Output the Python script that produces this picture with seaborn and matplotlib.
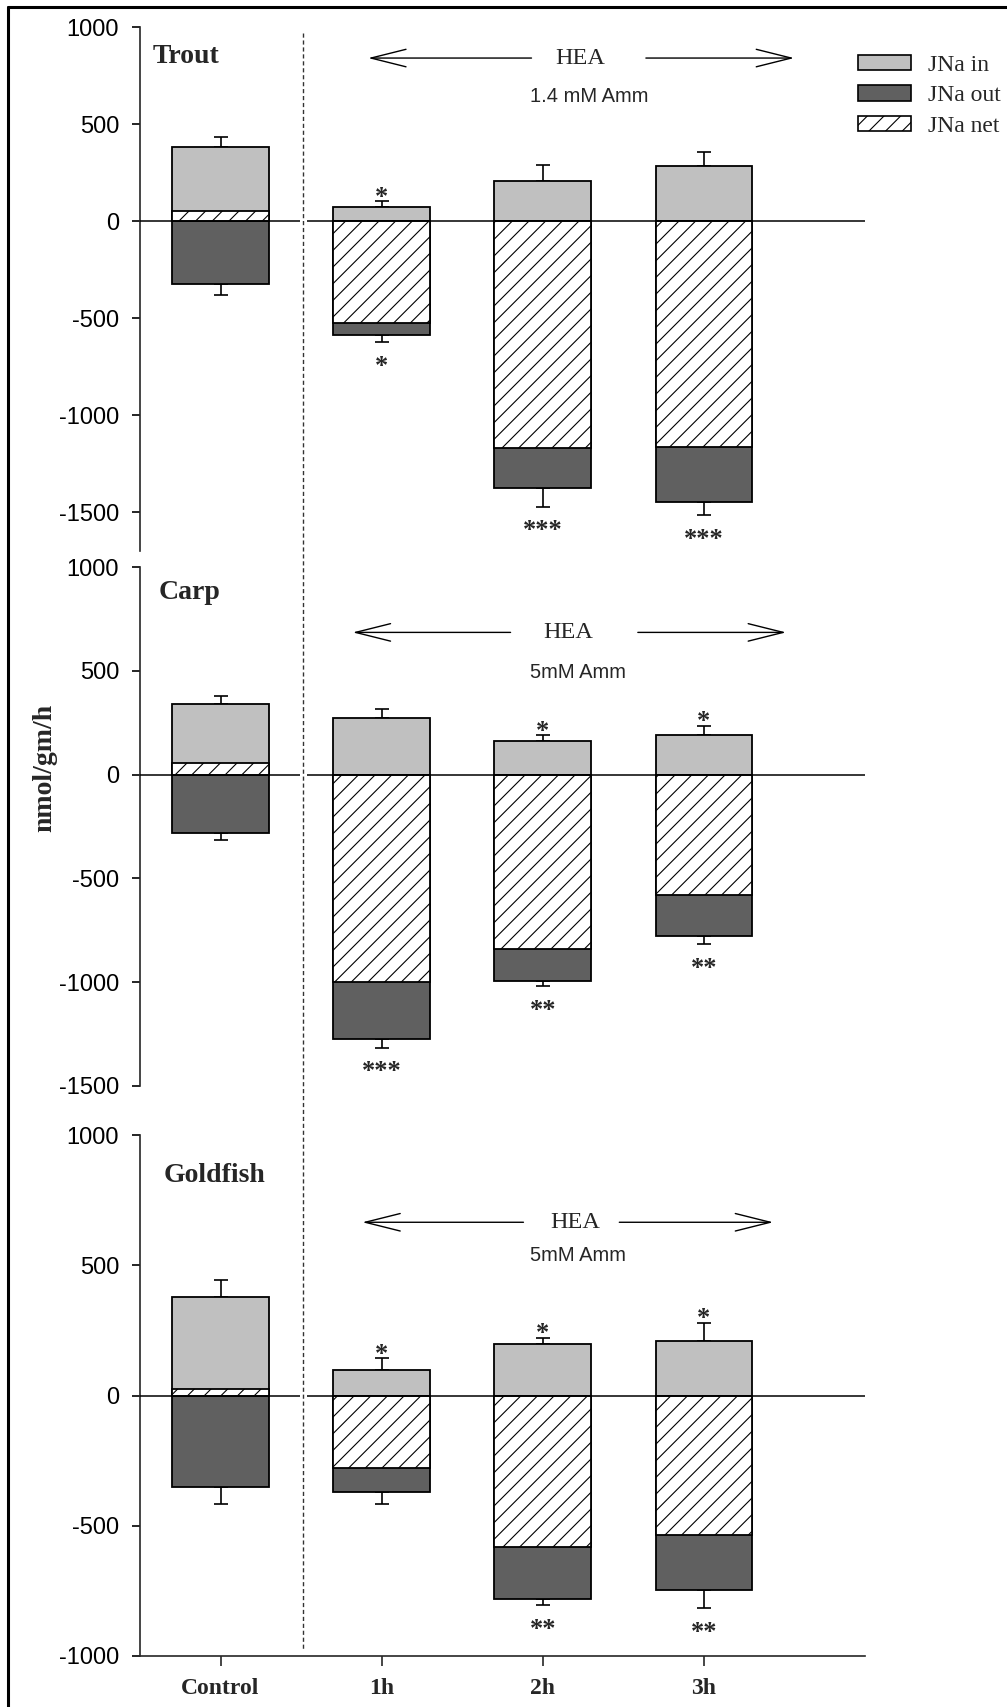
import matplotlib
matplotlib.use("Agg")
import matplotlib.pyplot as plt
from matplotlib.patches import Patch
from matplotlib.lines import Line2D
from matplotlib import transforms
import seaborn as sns
import pandas as pd
import numpy as np

# ---------------- data ----------------
categories = ["Control", "1h", "2h", "3h"]

trout_in = [381, 72, 204, 285]
trout_in_err = [53, 29, 87, 70]
trout_out = [-324, -587, -1375, -1447]
trout_out_err = [55, 37, 96, 70]
trout_net = [53, -523, -1171, -1162]
trout_star_top = ["", "*", "", ""]
trout_star_bot = ["", "*", "***", "***"]

carp_in = [339, 274, 163, 192]
carp_in_err = [38, 43, 29, 44]
carp_out = [-279, -1272, -993, -779]
carp_out_err = [38, 43, 26, 38]
carp_net = [56, -998, -839, -579]
carp_star_top = ["", "", "*", "*"]
carp_star_bot = ["", "***", "**", "**"]

gold_in = [380, 98, 198, 211]
gold_in_err = [65, 45, 24, 69]
gold_out = [-353, -370, -783, -746]
gold_out_err = [65, 48, 22, 70]
gold_net = [26, -277, -582, -535]
gold_star_top = ["", "*", "*", "*"]
gold_star_bot = ["", "", "**", "**"]

panel_names = ["Trout", "Carp", "Goldfish"]
conc_labels = ["1.4 mM Amm", "5mM Amm", "5mM Amm"]
yticks_list = [[-1500, -1000, -500, 0, 500, 1000],
               [-1500, -1000, -500, 0, 500, 1000],
               [-1000, -500, 0, 500, 1000]]
legend_labels = ["JNa in", "JNa out", "JNa net"]
ylabel_text = "nmol/gm/h"

# ---------------- style ----------------
sns.set_style("ticks")
plt.rcParams["font.family"] = ["Liberation Sans", "DejaVu Sans"]
plt.rcParams["axes.unicode_minus"] = False
plt.rcParams["hatch.linewidth"] = 0.8

SERIF = ["Liberation Serif", "DejaVu Serif"]
C_IN = "#c0c0c0"
C_OUT = "#606060"
HATCH = "//"

W, H = 1007, 1707
fig = plt.figure(figsize=(W / 100, H / 100), dpi=100)

left = 140 / W
width = 725 / W
rects = [
    (left, 1156 / H, width, (1680 - 1156) / H),
    (left, 621 / H, width, (1140 - 621) / H),
    (left, 51 / H, width, (572 - 51) / H),
]
ylims = [(-1700, 1000), (-1500, 1000), (-1000, 1000)]

panels = [
    dict(inn=trout_in, ie=trout_in_err, out=trout_out, oe=trout_out_err, net=trout_net,
         st=trout_star_top, sb=trout_star_bot,
         hea_y=840, conc_y=641, arrow=(0.916, 1.93, 2.23, 2.64, 3.56), conc_x=2.29,
         title_pos=(0.018, 0.943)),
    dict(inn=carp_in, ie=carp_in_err, out=carp_out, oe=carp_out_err, net=carp_net,
         st=carp_star_top, sb=carp_star_bot,
         hea_y=685, conc_y=493, arrow=(0.82, 1.80, 2.16, 2.59, 3.51), conc_x=2.22,
         title_pos=(0.025, 0.95)),
    dict(inn=gold_in, ie=gold_in_err, out=gold_out, oe=gold_out_err, net=gold_net,
         st=gold_star_top, sb=gold_star_bot,
         hea_y=665, conc_y=539, arrow=(0.88, 1.88, 2.20, 2.475, 3.43), conc_x=2.22,
         title_pos=(0.032, 0.922)),
]

axes = []
for i, p in enumerate(panels):
    ax = fig.add_axes(rects[i])
    axes.append(ax)
    x = np.arange(len(categories))

    # error bars (one-sided)
    ax.errorbar(x, p["inn"], yerr=[np.zeros(4), p["ie"]], fmt="none", ecolor="black",
                elinewidth=1.2, capsize=4.8, capthick=1.2, zorder=1)
    ax.errorbar(x, p["out"], yerr=[p["oe"], np.zeros(4)], fmt="none", ecolor="black",
                elinewidth=1.2, capsize=4.8, capthick=1.2, zorder=1)

    df_in = pd.DataFrame({"time": categories, "value": p["inn"]})
    df_out = pd.DataFrame({"time": categories, "value": p["out"]})
    df_net = pd.DataFrame({"time": categories, "value": p["net"]})
    kw = dict(x="time", y="value", order=categories, width=0.6, saturation=1,
              edgecolor="black", linewidth=1.3, errorbar=None, ax=ax)
    sns.barplot(data=df_in, color=C_IN, **kw)
    sns.barplot(data=df_out, color=C_OUT, **kw)
    n0 = len(ax.patches)
    sns.barplot(data=df_net, color="white", **kw)
    for patch in ax.patches[n0:]:
        patch.set_hatch(HATCH)
        patch.set_edgecolor("black")
        patch.set_zorder(3)

    # zero line with a gap at the dashed separator
    ax.hlines(0, -0.5, 0.49, color="black", lw=1.1, zorder=5)
    ax.hlines(0, 0.535, 4.0, color="black", lw=1.1, zorder=5)

    # significance stars
    for j in range(4):
        if p["st"][j]:
            ax.annotate(p["st"][j], xy=(j, p["inn"][j] + p["ie"][j]), xytext=(0, -2),
                        textcoords="offset points", ha="center", va="baseline",
                        fontsize=19, fontweight="bold", family=SERIF)
        if p["sb"][j]:
            ax.annotate(p["sb"][j], xy=(j, p["out"][j] - p["oe"][j]), xytext=(0, -22),
                        textcoords="offset points", ha="center", va="baseline",
                        fontsize=19, fontweight="bold", family=SERIF)

    # HEA arrows
    tip_l, end_l, hea_x, start_r, tip_r = p["arrow"]
    ap = dict(arrowstyle="->,head_length=1.8,head_width=0.45", lw=1.0, color="black",
              shrinkA=0, shrinkB=0, mutation_scale=14)
    ax.annotate("", xy=(tip_l, p["hea_y"]), xytext=(end_l, p["hea_y"]), arrowprops=ap)
    ax.annotate("", xy=(tip_r, p["hea_y"]), xytext=(start_r, p["hea_y"]), arrowprops=ap)
    ax.text(hea_x, p["hea_y"], "HEA", ha="center", va="center", fontsize=17.5, family=SERIF)
    ax.text(p["conc_x"], p["conc_y"], conc_labels[i], ha="center", va="center", fontsize=14.5)

    # panel title
    ax.text(p["title_pos"][0], p["title_pos"][1], panel_names[i], transform=ax.transAxes,
            ha="left", va="center", fontsize=20, fontweight="bold", family=SERIF)

    ax.set_xlim(-0.5, 4.0)
    ax.set_ylim(*ylims[i])
    ax.set_yticks(yticks_list[i])
    ax.set_yticklabels([str(v) for v in yticks_list[i]], fontsize=17)
    ax.set_xlabel("")
    ax.set_ylabel("")
    for s in ["top", "right"]:
        ax.spines[s].set_visible(False)
    ax.spines["left"].set_linewidth(1.2)
    ax.tick_params(axis="y", direction="out", length=6, width=1.2, pad=9, colors="black")
    if i < 2:
        ax.spines["bottom"].set_visible(False)
        ax.tick_params(axis="x", bottom=False, labelbottom=False)
    else:
        ax.spines["bottom"].set_linewidth(1.2)
        ax.tick_params(axis="x", direction="out", length=7, width=1.2, pad=9)
        ax.set_xticks(range(4))
        ax.set_xticklabels(categories, fontsize=17, fontweight="bold", family=SERIF)
    ax.set_facecolor("none")
    ax.patch.set_alpha(0)

# dashed vertical separator spanning all panels
tr = transforms.blended_transform_factory(axes[2].transData, fig.transFigure)
fig.add_artist(Line2D([0.51, 0.51], [1 - 33 / H, 1 - 1651 / H], transform=tr,
                      color="#333333", lw=1.0, linestyle=(0, (3, 2))))

# y label
fig.text(45 / W, 1 - 768 / H, ylabel_text, rotation=90, ha="center", va="center",
         fontsize=20, fontweight="bold", family=SERIF)

# legend
handles = [Patch(facecolor=C_IN, edgecolor="black", lw=1.2),
           Patch(facecolor=C_OUT, edgecolor="black", lw=1.2),
           Patch(facecolor="white", edgecolor="black", hatch=HATCH, lw=1.2)]
leg = fig.legend(handles, legend_labels, loc="upper left",
                 bbox_to_anchor=(858 / W, 1 - 55 / H), frameon=False, borderpad=0,
                 borderaxespad=0, handlelength=2.26, handleheight=0.62,
                 handletextpad=0.7, labelspacing=0.4,
                 prop={"family": SERIF, "size": 17})

# figure frame (top and left edges)
fig.add_artist(Line2D([8 / W, 1.0], [1 - 6.5 / H, 1 - 6.5 / H], transform=fig.transFigure,
                      color="black", lw=2.2))
fig.add_artist(Line2D([8 / W, 8 / W], [0.0, 1 - 6.5 / H], transform=fig.transFigure,
                      color="black", lw=2.2))

fig.savefig("out.png", dpi=100)
